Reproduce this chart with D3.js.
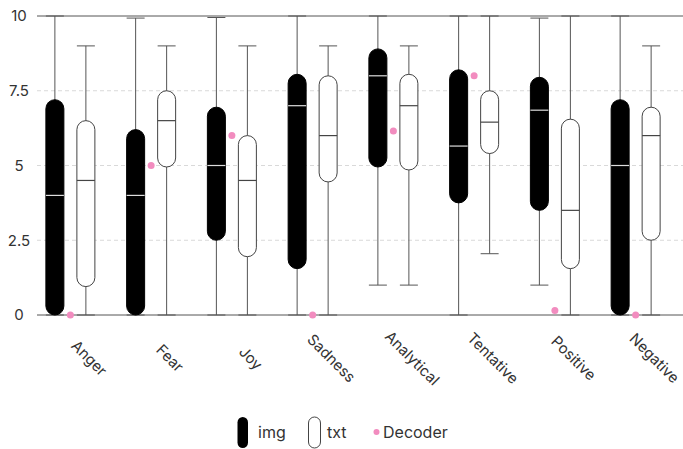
<!DOCTYPE html>
<html>
<head>
<meta charset="utf-8">
<script src="https://cdn.jsdelivr.net/npm/d3@7"></script>
<style>
  body { margin: 0; background: #fff; }
  svg { display: block; font-family: Inter, "Noto Sans", sans-serif; }
</style>
</head>
<body>
<div id="chart"></div>
<script>
var categories = ['Anger', 'Fear', 'Joy', 'Sadness', 'Analytical', 'Tentative', 'Positive', 'Negative'];

// img series: whisker low, q1, median, q3, whisker high
var imgMin = [0, 0, 0, 0, 1, 0, 1, 0];
var imgQ1 = [0, 0, 2.5, 1.55, 4.95, 3.75, 3.5, 0];
var imgMed = [4, 4, 5, 7, 8, 5.65, 6.85, 5];
var imgQ3 = [7.2, 6.2, 6.95, 8.05, 8.9, 8.2, 7.95, 7.2];
var imgMax = [10, 9.93, 9.95, 10, 10, 10, 9.93, 10];

// txt series
var txtMin = [0, 0, 0, 0, 1, 2.05, 0, 0];
var txtQ1 = [0.95, 4.95, 1.95, 4.45, 4.85, 5.4, 1.55, 2.5];
var txtMed = [4.5, 6.5, 4.5, 6, 7, 6.45, 3.5, 6];
var txtQ3 = [6.5, 7.5, 6, 8, 8.05, 7.5, 6.55, 6.95];
var txtMax = [9, 9, 9, 9, 9, 10, 10, 9];

// Decoder points
var decoder = [0, 5, 6, 0, 6.15, 8, 0.15, 0];

var yTicks = [0, 2.5, 5, 7.5, 10];
var seriesNames = ['img', 'txt'];

var width = 683;
var height = 449;
var boxW = 18;
var capW = 18;
var pink = '#f28cbf';

var svg = d3.select('#chart').append('svg')
    .attr('width', width)
    .attr('height', height);

var y = d3.scaleLinear().domain([0, 10]).range([315, 16]);
var x = d3.scaleBand().domain(categories).range([30, 676]);
var xSub = d3.scalePoint().domain(seriesNames).range([-15.5, 15.5]);

function cx(cat) {
    return x(cat) + x.bandwidth() / 2;
}

// grid
var grid = svg.append('g');
yTicks.forEach(function (t) {
    var solid = (t === 0 || t === 10);
    grid.append('line')
        .attr('x1', 37).attr('x2', width)
        .attr('y1', y(t)).attr('y2', y(t))
        .attr('stroke', solid ? '#555' : '#d9d9d9')
        .attr('stroke-width', 1)
        .attr('stroke-dasharray', solid ? null : '4,3');
});

// y axis labels
var yAxis = d3.axisLeft(y).tickValues(yTicks).tickSize(0).tickPadding(0)
    .tickFormat(function (d) { return d; });
svg.append('g')
    .attr('transform', 'translate(19,0)')
    .call(yAxis)
    .call(function (g) {
        g.select('.domain').remove();
        g.selectAll('text')
            .attr('text-anchor', 'middle')
            .attr('font-size', 15)
            .attr('font-family', 'Inter, sans-serif')
            .attr('fill', '#333');
    });

function boxes(name, lo, q1, med, q3, hi, fill) {
    var rows = categories.map(function (c, i) {
        return { cat: c, lo: lo[i], q1: q1[i], med: med[i], q3: q3[i], hi: hi[i] };
    });
    var g = svg.append('g').selectAll('g').data(rows).join('g')
        .attr('transform', function (d) {
            return 'translate(' + (cx(d.cat) + xSub(name)) + ',0)';
        });
    g.append('line')
        .attr('x1', 0).attr('x2', 0)
        .attr('y1', function (d) { return y(d.lo); })
        .attr('y2', function (d) { return y(d.hi); })
        .attr('stroke', '#555');
    g.append('line')
        .attr('x1', -capW / 2).attr('x2', capW / 2)
        .attr('y1', function (d) { return y(d.hi); })
        .attr('y2', function (d) { return y(d.hi); })
        .attr('stroke', '#555');
    g.append('line')
        .attr('x1', -capW / 2).attr('x2', capW / 2)
        .attr('y1', function (d) { return y(d.lo); })
        .attr('y2', function (d) { return y(d.lo); })
        .attr('stroke', '#555');
    g.append('rect')
        .attr('x', -boxW / 2)
        .attr('width', boxW)
        .attr('y', function (d) { return y(d.q3); })
        .attr('height', function (d) { return y(d.q1) - y(d.q3); })
        .attr('rx', boxW / 2)
        .attr('fill', fill)
        .attr('stroke', fill === '#000' ? '#000' : '#444')
        .attr('stroke-width', 1);
    g.append('line')
        .attr('x1', -boxW / 2).attr('x2', boxW / 2)
        .attr('y1', function (d) { return y(d.med); })
        .attr('y2', function (d) { return y(d.med); })
        .attr('stroke', fill === '#000' ? '#ddd' : '#444')
        .attr('stroke-width', 1.2);
}

boxes('img', imgMin, imgQ1, imgMed, imgQ3, imgMax, '#000');
boxes('txt', txtMin, txtQ1, txtMed, txtQ3, txtMax, '#fff');

// decoder dots
svg.append('g').selectAll('circle')
    .data(categories)
    .join('circle')
    .attr('cx', function (d) { return cx(d); })
    .attr('cy', function (d, i) { return y(decoder[i]); })
    .attr('r', 3.5)
    .attr('fill', pink);

// x labels
svg.append('g').selectAll('text')
    .data(categories)
    .join('text')
    .attr('transform', function (d) {
        return 'translate(' + (cx(d) + 19) + ',358) rotate(45)';
    })
    .attr('text-anchor', 'middle')
    .attr('dominant-baseline', 'central')
    .attr('font-size', 15)
    .attr('fill', '#333')
    .text(function (d) { return d; });

// legend
var legend = svg.append('g');
legend.append('rect')
    .attr('x', 237.5).attr('y', 417).attr('width', 10.5).attr('height', 31)
    .attr('rx', 5.25).attr('fill', '#000');
legend.append('text')
    .attr('x', 258).attr('y', 438).attr('font-size', 16).attr('fill', '#333')
    .text('img');
legend.append('rect')
    .attr('x', 308.5).attr('y', 417).attr('width', 12).attr('height', 31)
    .attr('rx', 6).attr('fill', '#fff').attr('stroke', '#444');
legend.append('text')
    .attr('x', 327).attr('y', 438).attr('font-size', 16).attr('fill', '#333')
    .text('txt');
legend.append('circle')
    .attr('cx', 376.5).attr('cy', 432).attr('r', 3).attr('fill', pink);
legend.append('text')
    .attr('x', 383).attr('y', 438).attr('font-size', 16).attr('fill', '#333')
    .text('Decoder');
</script>
</body>
</html>
